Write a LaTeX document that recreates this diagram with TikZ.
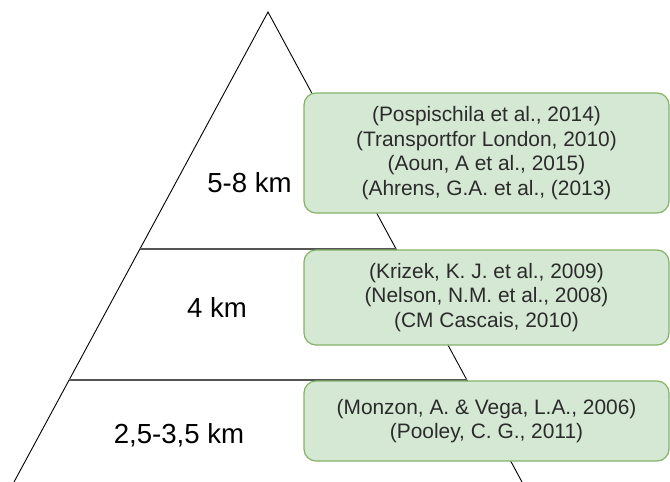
\documentclass[tikz,border=0pt]{standalone}
\usepackage{fontspec}
\setmainfont{Liberation Sans}
\usetikzlibrary{calc}
\definecolor{boxfill}{HTML}{D5E8D4}
\definecolor{boxline}{HTML}{82B366}
\definecolor{citetext}{HTML}{2B2B2B}
\definecolor{tierline}{HTML}{555555}
\tikzset{
  edge/.style={draw=black, line width=0.9pt},
  tier/.style={draw=tierline, line width=1.5pt},
  refbox/.style={draw=boxline, fill=boxfill, line width=1.2pt, rounded corners=12pt,
    minimum width=365pt, align=center, text=citetext,
    font=\fontsize{20.9}{24.6}\selectfont, inner sep=0pt},
  dist/.style={anchor=base, font=\fontsize{27.6}{30}\selectfont, text=black, inner sep=0pt}
}
\begin{document}
\begin{tikzpicture}[x=1pt, y=-1pt]
  \useasboundingbox (0,0) rectangle (670,482);
  % pyramid outline (its base lies below the visible area)
  \coordinate (apex) at (268,12);
  \coordinate (bl) at (14,482);
  \coordinate (br) at (522,482);
  \draw[edge] (bl) -- (apex) -- (br);
  % tier boundaries
  \coordinate (t1l) at ($(apex)!0.504!(bl)$);
  \coordinate (t1r) at ($(apex)!0.504!(br)$);
  \coordinate (t2l) at ($(apex)!0.783!(bl)$);
  \coordinate (t2r) at ($(apex)!0.783!(br)$);
  \draw[tier] (t1l) -- (t1r);
  \draw[tier] (t2l) -- (t2r);
  % distance labels
  \node[dist] (d1) at (249.5,192) {5-8 km};
  \node[dist] (d2) at (217,317) {4 km};
  \node[dist] (d3) at (179,443) {2,5-3,5 km};
  % references per tier
  \node[refbox, minimum height=120pt] (r1) at (486.5,153)
    {(Pospischila et al., 2014)\\(Transportfor London, 2010)\\(Aoun, A et al., 2015)\\(Ahrens, G.A. et al., (2013)};
  \node[refbox, minimum height=95pt] (r2) at (486.5,297.5)
    {(Krizek, K. J. et al., 2009)\\(Nelson, N.M. et al., 2008)\\(CM Cascais, 2010)};
  \node[refbox, minimum height=80pt] (r3) at (486.5,421)
    {(Monzon, A. \& Vega, L.A., 2006)\\(Pooley, C. G., 2011)};
\end{tikzpicture}
\end{document}
